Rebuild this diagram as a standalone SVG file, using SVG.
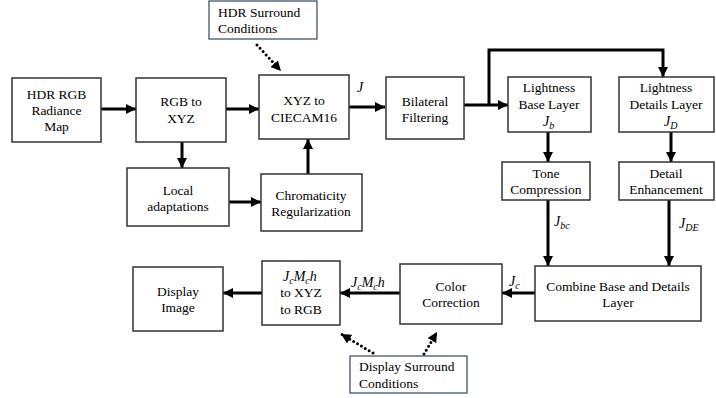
<svg xmlns="http://www.w3.org/2000/svg" width="716" height="398" viewBox="0 0 716 398">
<style>
.box{fill:#fff;stroke:#333;stroke-width:1.5}
.sbox{fill:#fff;stroke:#44546a;stroke-width:1.3}
.t{font-family:"Liberation Serif","Times New Roman","DejaVu Serif",serif;font-size:13.5px;fill:#000;text-anchor:middle}
.tl{font-family:"Liberation Serif","Times New Roman","DejaVu Serif",serif;font-size:13.5px;fill:#000}
.m{font-family:"Liberation Serif","Times New Roman","DejaVu Serif",serif;font-size:14px;font-style:italic;fill:#000}
.s{font-size:10px}
.ln{fill:none;stroke:#000;stroke-width:3}
.dt{fill:none;stroke:#000;stroke-width:3;stroke-dasharray:0 4.5;stroke-linecap:round}
</style>
<defs>
<marker id="ah" markerUnits="userSpaceOnUse" markerWidth="10" markerHeight="10" refX="10" refY="5" orient="auto">
<path d="M0,0 L10,5 L0,10 z" fill="#000"/>
</marker>
<marker id="dh" markerUnits="userSpaceOnUse" markerWidth="10" markerHeight="10" refX="10" refY="5" orient="auto">
<path d="M0,0 L10,5 L0,10 z" fill="#000"/>
</marker>
</defs>
<rect width="716" height="398" fill="#fff"/>
<g id="connectors">
<line class="ln" x1="101" y1="109" x2="136" y2="109" marker-end="url(#ah)"/>
<line class="ln" x1="226" y1="109" x2="259" y2="109" marker-end="url(#ah)"/>
<line class="ln" x1="182" y1="142" x2="182" y2="168" marker-end="url(#ah)"/>
<line class="ln" x1="229" y1="202" x2="261" y2="202" marker-end="url(#ah)"/>
<line class="ln" x1="308" y1="174" x2="308" y2="139" marker-end="url(#ah)"/>
<line class="ln" x1="349" y1="107" x2="385" y2="107" marker-end="url(#ah)"/>
<line class="ln" x1="464" y1="105" x2="508" y2="105" marker-end="url(#ah)"/>
<polyline class="ln" points="489,105 489,50 663,50 663,77" marker-end="url(#ah)"/>
<line class="ln" x1="548" y1="132" x2="548" y2="162" marker-end="url(#ah)"/>
<line class="ln" x1="671" y1="132" x2="671" y2="162" marker-end="url(#ah)"/>
<line class="ln" x1="548" y1="200" x2="548" y2="266" marker-end="url(#ah)"/>
<line class="ln" x1="669" y1="200" x2="669" y2="266" marker-end="url(#ah)"/>
<line class="ln" x1="535" y1="293" x2="502" y2="293" marker-end="url(#ah)"/>
<line class="ln" x1="400" y1="293" x2="340" y2="293" marker-end="url(#ah)"/>
<line class="ln" x1="262" y1="293" x2="223" y2="293" marker-end="url(#ah)"/>
<line class="dt" x1="257" y1="45" x2="281" y2="71" marker-end="url(#dh)"/>
<line class="dt" x1="373" y1="353" x2="341" y2="334" marker-end="url(#dh)"/>
<line class="dt" x1="424" y1="354" x2="437" y2="332" marker-end="url(#dh)"/>
<text class="m" x="357" y="92">J</text>
<text class="m" x="554" y="226">J<tspan class="s" dy="3">bc</tspan></text>
<text class="m" x="679" y="228">J<tspan class="s" dy="3">DE</tspan></text>
<text class="m" x="509" y="286">J<tspan class="s" dy="3">c</tspan></text>
<text class="m" x="351" y="287">J<tspan class="s" dy="3">c</tspan><tspan dy="-3">M</tspan><tspan class="s" dy="3">c</tspan><tspan dy="-3">h</tspan></text>
</g>
<g id="hdr-surround">
<rect class="sbox" x="209" y="1" width="108" height="38"/>
<text class="tl" x="218" y="17">HDR Surround</text>
<text class="tl" x="218" y="33">Conditions</text>
</g>
<g id="hdr-rgb">
<rect class="box" x="12" y="78" width="89" height="64"/>
<text class="t" x="56.5" y="99">HDR RGB</text>
<text class="t" x="56.5" y="115">Radiance</text>
<text class="t" x="56.5" y="131">Map</text>
</g>
<g id="rgb-xyz">
<rect class="box" x="136" y="78" width="90" height="64"/>
<text class="t" x="181" y="106">RGB to</text>
<text class="t" x="181" y="123">XYZ</text>
</g>
<g id="xyz-ciecam">
<rect class="box" x="259" y="75" width="90" height="64"/>
<text class="t" x="304" y="105">XYZ to</text>
<text class="t" x="304" y="122">CIECAM16</text>
</g>
<g id="local">
<rect class="box" x="127" y="168" width="102" height="58"/>
<text class="t" x="178" y="195">Local</text>
<text class="t" x="178" y="211">adaptations</text>
</g>
<g id="chroma">
<rect class="box" x="261" y="174" width="101" height="57"/>
<text class="t" x="311" y="200">Chromaticity</text>
<text class="t" x="311" y="216">Regularization</text>
</g>
<g id="bilateral">
<rect class="box" x="386" y="77" width="78" height="62"/>
<text class="t" x="425" y="106">Bilateral</text>
<text class="t" x="425" y="122">Filtering</text>
</g>
<g id="base-layer">
<rect class="box" x="508" y="77" width="83" height="55"/>
<text class="t" x="549" y="92">Lightness</text>
<text class="t" x="549" y="109">Base Layer</text>
<text class="m" x="543" y="126">J<tspan class="s" dy="3">b</tspan></text>
</g>
<g id="details-layer">
<rect class="box" x="619" y="77" width="95" height="55"/>
<text class="t" x="666" y="92">Lightness</text>
<text class="t" x="666" y="109">Details Layer</text>
<text class="m" x="664" y="126">J<tspan class="s" dy="3">D</tspan></text>
</g>
<g id="tone">
<rect class="box" x="502" y="162" width="88" height="38"/>
<text class="t" x="546" y="178">Tone</text>
<text class="t" x="546" y="194">Compression</text>
</g>
<g id="detail-enh">
<rect class="box" x="619" y="162" width="95" height="38"/>
<text class="t" x="666" y="178">Detail</text>
<text class="t" x="666" y="194">Enhancement</text>
</g>
<g id="combine">
<rect class="box" x="535" y="266" width="166" height="55"/>
<text class="t" x="618" y="291">Combine Base and Details</text>
<text class="t" x="618" y="307">Layer</text>
</g>
<g id="color-corr">
<rect class="box" x="400" y="264" width="102" height="60"/>
<text class="t" x="451" y="291">Color</text>
<text class="t" x="451" y="307">Correction</text>
</g>
<g id="jcmch">
<rect class="box" x="262" y="261" width="78" height="64"/>
<text class="m" x="283" y="281">J<tspan class="s" dy="3">c</tspan><tspan dy="-3">M</tspan><tspan class="s" dy="3">c</tspan><tspan dy="-3">h</tspan></text>
<text class="t" x="301" y="297">to XYZ</text>
<text class="t" x="301" y="314">to RGB</text>
</g>
<g id="display-image">
<rect class="box" x="133" y="267" width="90" height="64"/>
<text class="t" x="178" y="296">Display</text>
<text class="t" x="178" y="312">Image</text>
</g>
<g id="display-surround">
<rect class="sbox" x="350" y="356" width="117" height="37"/>
<text class="tl" x="359" y="371">Display Surround</text>
<text class="tl" x="359" y="388">Conditions</text>
</g>
</svg>
